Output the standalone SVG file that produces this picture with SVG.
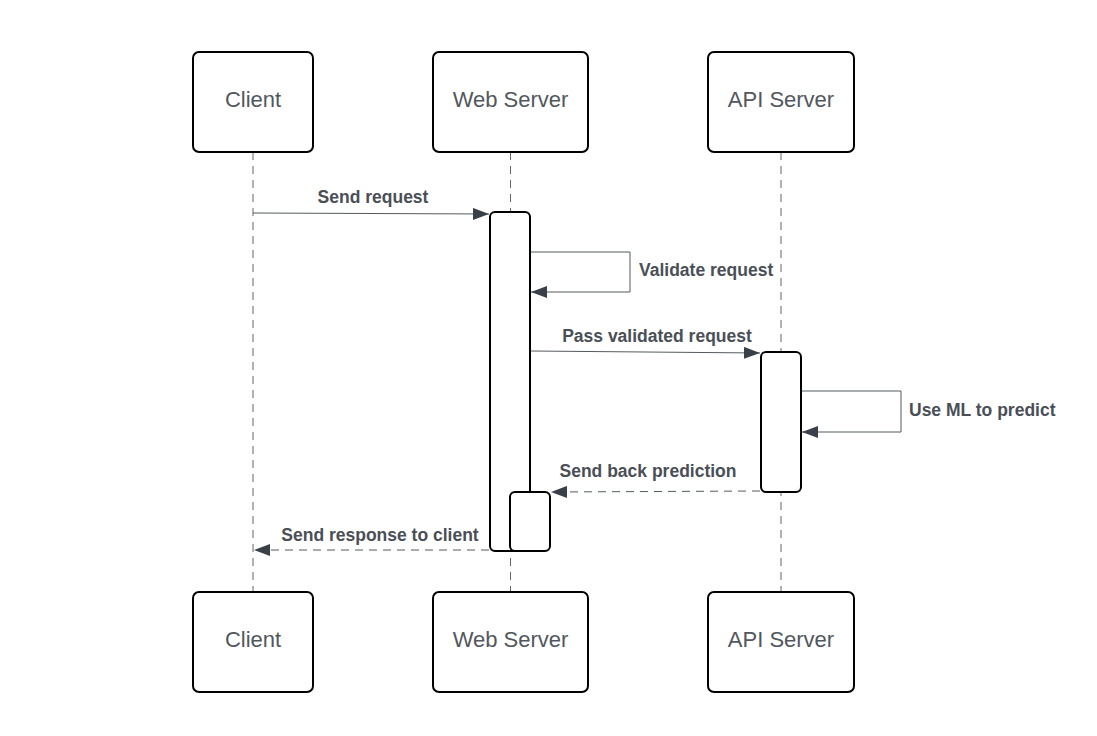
<svg xmlns="http://www.w3.org/2000/svg" width="1097" height="736" viewBox="0 0 1097 736">
<style>
.box{fill:#fff;stroke:#000;stroke-width:2}
.act{fill:#fff;stroke:#000;stroke-width:2}
.life{stroke:#666;stroke-width:1;stroke-dasharray:8 6;fill:none}
.msg{stroke:#555a60;stroke-width:1;fill:none}
.ret{stroke:#555a60;stroke-width:1;fill:none;stroke-dasharray:8 6}
.nt{font-family:"Liberation Sans",Arial,sans-serif;font-size:22px;fill:#52575e;text-anchor:middle}
.lb{font-family:"Liberation Sans",Arial,sans-serif;font-size:17.5px;font-weight:bold;fill:#4a4f57}
</style>
<defs>
<marker id="ah" viewBox="0 0 16 12" refX="16" refY="6" markerWidth="16" markerHeight="12" markerUnits="userSpaceOnUse" orient="auto">
<path d="M0,0 L16,6 L0,12 Z" fill="#3a4048"/>
</marker>
</defs>
<rect width="1097" height="736" fill="#fff"/>
<g id="lifelines">
<line class="life" x1="253" y1="152" x2="253" y2="592"/>
<line class="life" x1="510.5" y1="152" x2="510.5" y2="592"/>
<line class="life" x1="781" y1="152" x2="781" y2="592"/>
</g>
<g id="client-top"><rect class="box" x="193" y="52" width="120" height="100" rx="6"/><text class="nt" x="253" y="107">Client</text></g>
<g id="web-top"><rect class="box" x="433" y="52" width="155" height="100" rx="6"/><text class="nt" x="510.5" y="107">Web Server</text></g>
<g id="api-top"><rect class="box" x="708" y="52" width="146" height="100" rx="6"/><text class="nt" x="781" y="107">API Server</text></g>
<g id="client-bottom"><rect class="box" x="193" y="592" width="120" height="100" rx="6"/><text class="nt" x="253" y="647">Client</text></g>
<g id="web-bottom"><rect class="box" x="433" y="592" width="155" height="100" rx="6"/><text class="nt" x="510.5" y="647">Web Server</text></g>
<g id="api-bottom"><rect class="box" x="708" y="592" width="146" height="100" rx="6"/><text class="nt" x="781" y="647">API Server</text></g>
<g id="web-activation"><rect class="act" x="490" y="212" width="40" height="339" rx="5"/></g>
<g id="web-activation-2"><rect class="act" x="510" y="492" width="40" height="59" rx="5"/></g>
<g id="api-activation"><rect class="act" x="761" y="352" width="40" height="140" rx="5"/></g>
<g id="connectors">
<line class="msg" x1="253" y1="213" x2="489" y2="214" marker-end="url(#ah)"/>
<polyline class="msg" points="531,252 630,252 630,292 531,292" marker-end="url(#ah)"/>
<line class="msg" x1="531" y1="351" x2="760" y2="353" marker-end="url(#ah)"/>
<polyline class="msg" points="802,391 901,391 901,432 802,432" marker-end="url(#ah)"/>
<line class="ret" x1="760" y1="491" x2="551" y2="492" marker-end="url(#ah)"/>
<line class="ret" x1="489" y1="550" x2="254" y2="550" marker-end="url(#ah)"/>
</g>
<g id="labels">
<text class="lb" x="373" y="203" text-anchor="middle">Send request</text>
<text class="lb" x="639" y="276">Validate request</text>
<text class="lb" x="657" y="342" text-anchor="middle">Pass validated request</text>
<text class="lb" x="909" y="416">Use ML to predict</text>
<text class="lb" x="648" y="477" text-anchor="middle">Send back prediction</text>
<text class="lb" x="380" y="541" text-anchor="middle">Send response to client</text>
</g>
</svg>
